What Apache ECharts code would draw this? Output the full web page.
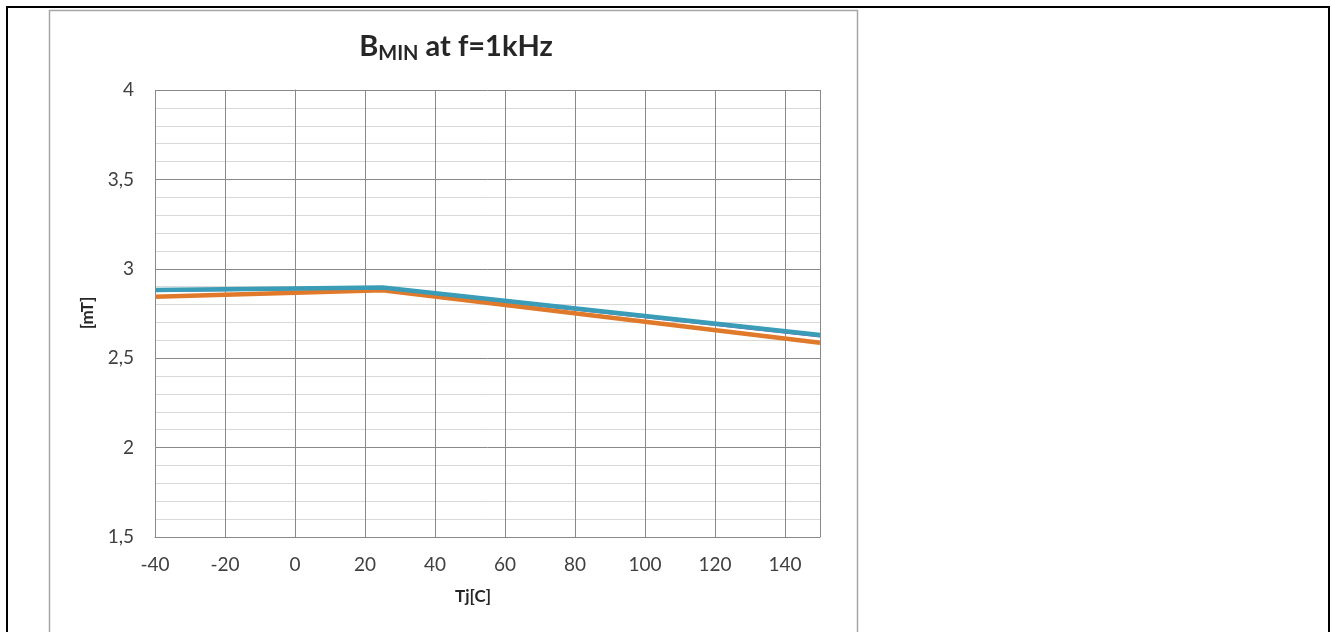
<!DOCTYPE html>
<html><head><meta charset="utf-8">
<script src="https://cdn.jsdelivr.net/npm/echarts@6/dist/echarts.min.js"></script>
<style>html,body{margin:0;padding:0;background:#fff}#c{width:1332px;height:632px}</style>
</head><body><div id="c"></div>
<script>
const temps = [-40, 25, 150];
const seriesBlue = [2.881, 2.895, 2.630];
const seriesPurple = [2.875, 2.888, 2.620];
const seriesOrange = [2.843, 2.880, 2.586];
const xTicks = [-40, -20, 0, 20, 40, 60, 80, 100, 120, 140];

const chart = echarts.init(document.getElementById('c'), null, {renderer: 'canvas'});
const font = 'Lato, "Open Sans", sans-serif';
const toPairs = arr => temps.map((t, i) => [t, arr[i]]);
chart.setOption({
  animation: false,
  backgroundColor: '#fff',
  title: {
    text: '{b|B}{s|MIN}{b| at f=1kHz}',
    left: 451, top: 25, textAlign: 'center',
    textStyle: {
      rich: {
        b: {fontSize: 29, fontWeight: 'bold', color: '#262626', fontFamily: font},
        s: {fontSize: 20, fontWeight: 'bold', color: '#262626', fontFamily: font, verticalAlign: 'bottom', padding: [14, 0, 0, 0]}
      }
    }
  },
  graphic: [
    {type: 'rect', shape: {x: 7, y: 7, width: 1322, height: 700}, style: {fill: 'none', stroke: '#000', lineWidth: 2}, z: 100},
    {type: 'rect', shape: {x: 49.5, y: 10.5, width: 808, height: 700}, style: {fill: 'none', stroke: '#a6a6a6', lineWidth: 1.5}, z: 100},
    {type: 'text', x: 88, y: 313, rotation: Math.PI / 2, style: {text: '[mT]', fontSize: 17, fontWeight: 'bold', fill: '#262626', fontFamily: font, align: 'center', verticalAlign: 'middle'}},
    {type: 'text', x: 473, y: 597, style: {text: 'Tj[C]', fontSize: 17, fontWeight: 'bold', fill: '#262626', fontFamily: font, align: 'center', verticalAlign: 'middle'}}
  ],
  grid: {left: 155, top: 90, right: 512, bottom: 95},
  xAxis: {
    type: 'value', min: -40, max: 150, interval: 20,
    axisLine: {show: true, lineStyle: {color: '#898989', width: 1}},
    axisTick: {show: false},
    axisLabel: {
      margin: 18, fontSize: 19, color: '#404040', fontFamily: font,
      formatter: v => xTicks.includes(v) ? String(v) : ''
    },
    splitLine: {show: true, lineStyle: {color: '#898989', width: 1}}
  },
  yAxis: {
    type: 'value', min: 1.5, max: 4, interval: 0.5,
    axisLine: {show: true, lineStyle: {color: '#898989', width: 1}},
    axisTick: {show: false},
    axisLabel: {
      margin: 21, fontSize: 19, color: '#404040', fontFamily: font,
      formatter: v => String(v).replace('.', ',')
    },
    splitLine: {show: true, lineStyle: {color: '#898989', width: 1}},
    minorTick: {show: false, splitNumber: 5},
    minorSplitLine: {show: true, lineStyle: {color: '#d9d9d9', width: 1}}
  },
  series: [
    {type: 'line', data: toPairs(seriesPurple), symbol: 'none', lineStyle: {color: '#7a5ca8', width: 1.5}, z: 2},
    {type: 'line', data: toPairs(seriesOrange), symbol: 'none', lineStyle: {color: '#e0792a', width: 4.5}, z: 3},
    {type: 'line', data: toPairs(seriesBlue), symbol: 'none', lineStyle: {color: '#3a9cb6', width: 4.5}, z: 4}
  ]
});
</script></body></html>
